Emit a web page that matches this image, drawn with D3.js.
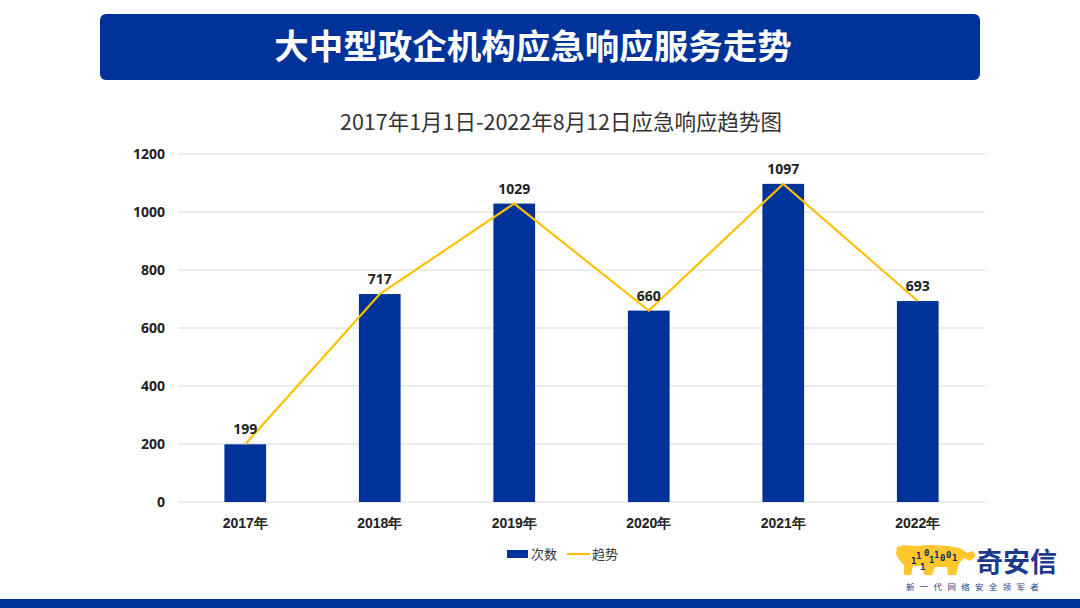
<!DOCTYPE html>
<html><head><meta charset="utf-8">
<script src="https://cdn.jsdelivr.net/npm/d3@7"></script>
<style>body{margin:0;background:#fff;}svg{display:block;font-family:"Noto Sans CJK SC","Open Sans",sans-serif;}</style>
</head><body>
<svg id="c" width="1080" height="608"></svg>
<script>
const categories = ["2017年","2018年","2019年","2020年","2021年","2022年"];
const counts = [199,717,1029,660,1097,693];
const yTicks = [0,200,400,600,800,1000,1200];
const titleText = "大中型政企机构应急响应服务走势";
const subtitleText = "2017年1月1日-2022年8月12日应急响应趋势图";
const legendLabels = ["次数","趋势"];

const svg = d3.select("#c");
const blue = "#003399", gold = "#FFC000";

// banner
svg.append("rect").attr("x",100).attr("y",14).attr("width",880).attr("height",66).attr("rx",6).attr("fill",blue);
svg.append("text").attr("x",533).attr("y",59).attr("text-anchor","middle").attr("fill","#fff")
  .attr("font-size",34.5).attr("font-weight",700).text(titleText);
// bottom bar
svg.append("rect").attr("x",0).attr("y",599).attr("width",1080).attr("height",9).attr("fill",blue);

svg.append("text").attr("x",561).attr("y",130).attr("text-anchor","middle").attr("fill","#333")
  .attr("font-size",21.5).text(subtitleText);

const x = d3.scaleBand().domain(categories).range([178,985]).paddingInner(0.69).paddingOuter(0.345);
const y = d3.scaleLinear().domain([0,1200]).range([502,154]);

const g = svg.append("g");
g.selectAll("line.grid").data(yTicks).join("line").attr("class","grid")
  .attr("x1",178).attr("x2",985).attr("y1",d=>y(d)).attr("y2",d=>y(d))
  .attr("stroke","#d9d9d9").attr("stroke-width",1);

const yAxis = d3.axisLeft(y).tickValues(yTicks).tickFormat(d3.format("d")).tickSize(0).tickPadding(0);
svg.append("g").attr("transform","translate(165,0)").call(yAxis)
  .call(a=>a.select(".domain").remove())
  .selectAll("text").attr("font-size",14).attr("font-weight",700).attr("fill","#222")
  .attr("font-family","'Open Sans','Noto Sans CJK SC',sans-serif");

const xAxis = d3.axisBottom(x).tickSize(0).tickPadding(0);
svg.append("g").attr("transform","translate(0,518)").call(xAxis)
  .call(a=>a.select(".domain").remove())
  .selectAll("text").attr("font-size",14).attr("font-weight",700).attr("fill","#222");

g.selectAll("rect.bar").data(counts).join("rect").attr("class","bar")
  .attr("x",(d,i)=>x(categories[i])).attr("width",x.bandwidth())
  .attr("y",d=>y(d)).attr("height",d=>y(0)-y(d)).attr("fill",blue);

const line = d3.line().x((d,i)=>x(categories[i])+x.bandwidth()/2).y(d=>y(d));
g.append("path").datum(counts).attr("d",line).attr("fill","none").attr("stroke",gold).attr("stroke-width",2.2);

g.selectAll("text.lbl").data(counts).join("text").attr("class","lbl")
  .attr("x",(d,i)=>x(categories[i])+x.bandwidth()/2).attr("y",d=>y(d)-10)
  .attr("text-anchor","middle").attr("font-size",14).attr("font-weight",700).attr("fill","#222")
  .attr("font-family","'Open Sans','Noto Sans CJK SC',sans-serif").text(d=>d);

// legend
const lg = svg.append("g");
lg.append("rect").attr("x",507).attr("y",550).attr("width",21).attr("height",8).attr("fill",blue);
lg.append("text").attr("x",531).attr("y",559).attr("font-size",13).attr("fill","#333").text(legendLabels[0]);
lg.append("line").attr("x1",567).attr("x2",590).attr("y1",554).attr("y2",554).attr("stroke",gold).attr("stroke-width",2);
lg.append("text").attr("x",592).attr("y",559).attr("font-size",13).attr("fill","#333").text(legendLabels[1]);

// logo
const logo = svg.append("g");
logo.append("path").attr("fill","#FFC72C")
  .attr("d","M897,547 L904,545 L915,546 L930,545 L948,546 L960,548 L967,553 L973,551 L976,556 L970,561 L964,558 L959,563 L956,575 L948,575 L947,567 L935,567 L932,575 L924,575 L923,566 L913,566 L911,575 L904,575 L904,565 L899,560 L896,554 Z");
const digits = [["1",911,564],["1",916,559],["1",920,570],["0",924,556],["1",929,563],["1",934,558],["0",940,561],["0",946,558],["1",952,561]];
digits.forEach(d=>logo.append("text").attr("x",d[1]).attr("y",d[2]).attr("font-size",9).attr("font-weight",700).attr("fill","#0a2a6e").attr("font-family","DejaVu Sans Mono").text(d[0]));
logo.append("text").attr("x",976).attr("y",572).attr("font-size",27).attr("font-weight",700).attr("fill","#1b3a8c").text("奇安信");
logo.append("text").attr("x",906).attr("y",590).attr("font-size",8.5).attr("fill","#1b3a8c").attr("letter-spacing",5.3).text("新一代网络安全领军者");
</script>
</body></html>
